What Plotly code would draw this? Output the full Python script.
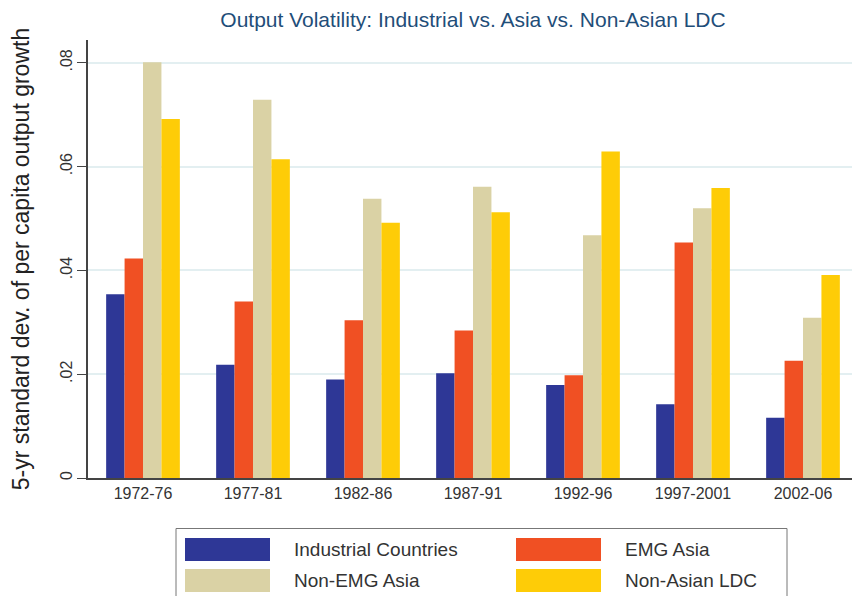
import plotly.graph_objects as go

# ── Data ────────────────────────────────────────────────────────────────────
periods = ["1972-76", "1977-81", "1982-86", "1987-91", "1992-96", "1997-2001", "2002-06"]

industrial  = [0.0354, 0.0218, 0.0190, 0.0202, 0.0179, 0.0142, 0.0116]
emg_asia    = [0.0423, 0.0340, 0.0304, 0.0284, 0.0198, 0.0454, 0.0226]
non_emg     = [0.0801, 0.0729, 0.0538, 0.0561, 0.0468, 0.0520, 0.0309]
non_asian   = [0.0692, 0.0614, 0.0492, 0.0512, 0.0629, 0.0559, 0.0391]

series_names  = ["Industrial Countries", "EMG Asia", "Non-EMG Asia", "Non-Asian LDC"]
series_values = [industrial, emg_asia, non_emg, non_asian]
series_colors = ["#2E3796", "#F05023", "#DAD2A5", "#FECC07"]

y_tickvals = [0, 0.02, 0.04, 0.06, 0.08]
y_ticktext = ["0", ".02", ".04", ".06", ".08"]

FONT = "Liberation Sans, Arial, sans-serif"
OFF = 8                          # page body margin
W, H = 860 - OFF, 596 - OFF
L, R, T, B = 88 - OFF, 2, 40 - OFF, 596 - 478
PW, PH = W - L - R, H - T - B

fig = go.Figure()
for name, vals, color in zip(series_names, series_values, series_colors):
    fig.add_trace(go.Bar(
        x=periods, y=vals, name=name,
        marker=dict(color=color, line=dict(width=0)),
        showlegend=False,
    ))

# ── Legend drawn as large swatches (Stata style) ────────────────────────────
def px(x):  # screen pixel -> paper x
    return (x - OFF - L) / PW

def py(y):  # screen pixel -> paper y
    return (T + PH - (y - OFF)) / PH

shapes = [dict(type="rect", xref="paper", yref="paper",
               x0=px(176), x1=px(787), y0=py(610), y1=py(528.5),
               line=dict(color="#777777", width=1), fillcolor="rgba(0,0,0,0)")]
annotations = []
col_x = [185, 516]
row_y = [538, 569]
for i, (name, color) in enumerate(zip(series_names, series_colors)):
    cx = col_x[i % 2]
    ry = row_y[i // 2]
    shapes.append(dict(type="rect", xref="paper", yref="paper",
                       x0=px(cx), x1=px(cx + 85), y0=py(ry + 23), y1=py(ry),
                       line=dict(width=0), fillcolor=color))
    annotations.append(dict(text=name, xref="paper", yref="paper",
                            x=px(cx + 107), y=py(ry + 11.5),
                            xanchor="left", yanchor="middle", showarrow=False,
                            font=dict(family=FONT, size=19, color="#333333")))

fig.update_layout(
    width=W, height=H,
    paper_bgcolor="white", plot_bgcolor="white",
    font=dict(family=FONT, size=16, color="#333333"),
    margin=dict(l=L, r=R, t=T, b=B, autoexpand=False),
    barmode="group", bargap=0.33, bargroupgap=0,
    title=dict(text="Output Volatility: Industrial vs. Asia vs. Non-Asian LDC",
               font=dict(family=FONT, size=21, color="#1F4E79"),
               x=(L + PW / 2) / W, xanchor="center", y=1 - (19.5 - OFF) / H, yanchor="middle"),
    xaxis=dict(type="category", showline=True, linecolor="#444444", linewidth=1.5,
               ticks="", showgrid=False,
               tickfont=dict(family=FONT, size=16, color="#333333")),
    yaxis=dict(range=[0, 0.0844], tickvals=y_tickvals, ticktext=y_ticktext,
               tickangle=-90, ticks="outside", ticklen=9, tickcolor="#444444",
               showline=True, linecolor="#444444", linewidth=1.5,
               showgrid=True, gridcolor="#E3EFF1", gridwidth=1.5,
               zeroline=False, ticklabelstandoff=-1,
               tickfont=dict(family=FONT, size=16, color="#333333"),
               title=dict(text="5-yr standard dev. of per capita output growth",
                          font=dict(family=FONT, size=23, color="#222222"),
                          standoff=26)),
    shapes=shapes,
    annotations=annotations,
)

fig.write_html("out.html")
